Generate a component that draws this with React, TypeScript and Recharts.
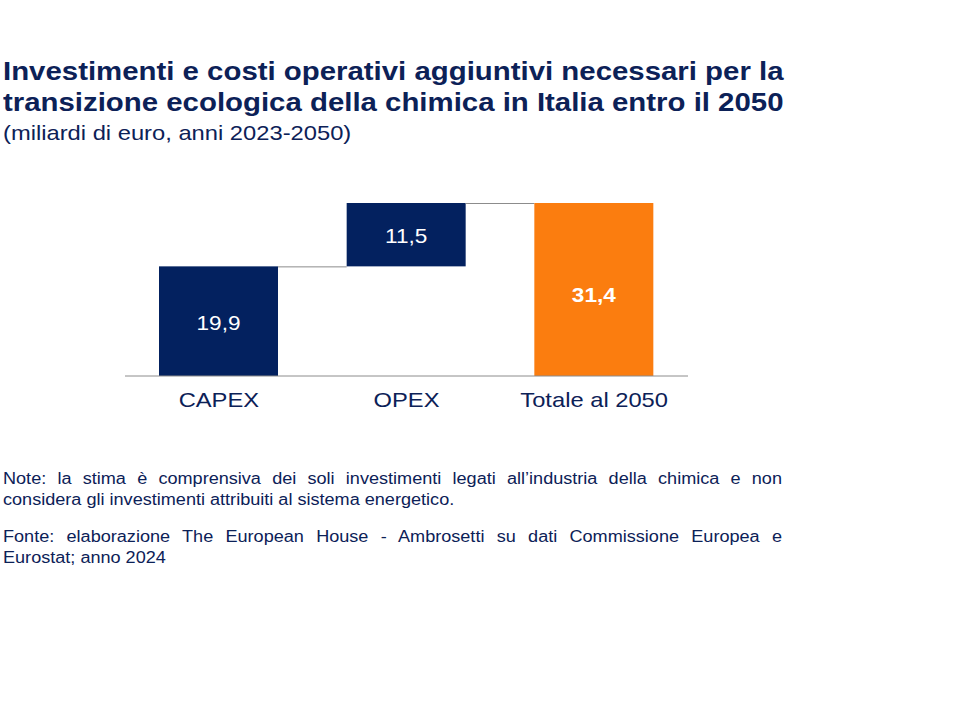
import { Bar, BarChart, LabelList, XAxis, YAxis } from "recharts";

const categories = ["CAPEX", "OPEX", "Totale al 2050"];
const values = [19.9, 11.5, 31.4];
const isTotal = [false, false, true];

// waterfall: each step starts where the previous ones ended, the total starts at 0
const bases = values.map((_, i) => {
  if (isTotal[i]) return 0;
  let s = 0;
  for (let j = 0; j < i; j++) if (!isTotal[j]) s += values[j];
  return s;
});

const data = categories.map((name, i) => ({
  name,
  base: bases[i],
  value: values[i],
  total: isTotal[i],
}));

const NAVY = "#03215F";
const ORANGE = "#FB7D0F";
const TEXT = "#0C2157";
const FONT = "'Liberation Sans', Arial, sans-serif";
const SX = 1.13; // the original slide text is a little wider than Arial

const CHART_W = 720;
const CHART_H = 260;
const margin = { top: 23, right: 32, left: 125, bottom: 24 };
const bandSize = (CHART_W - margin.left - margin.right) / categories.length;

const fmt = (v: any) => Number(v).toFixed(1).replace(".", ",");

const StepShape = (props: any) => {
  const { x, y, width, height, index, payload } = props;
  const gap = bandSize - width;
  return (
    <g>
      <rect x={x} y={y} width={width} height={height} fill={payload.total ? ORANGE : NAVY} />
      {index < categories.length - 1 && (
        <line x1={x + width} y1={y + 0.5} x2={x + width + gap} y2={y + 0.5} stroke="#8c8c8c" strokeWidth={1} />
      )}
    </g>
  );
};

const ValueLabel = (props: any) => {
  const { x, y, width, height, value, index } = props;
  const bold = isTotal[index];
  return (
    <g transform={`translate(${x + width / 2},${y + height / 2 + (bold ? 6 : 2)})`}>
      <text
        transform={`scale(${SX},1)`}
        textAnchor="middle"
        dominantBaseline="central"
        fill="#ffffff"
        fontSize={20}
        fontWeight={bold ? "bold" : "normal"}
        fontFamily={FONT}
      >
        {fmt(value)}
      </text>
    </g>
  );
};

const CategoryTick = (props: any) => {
  const { x, y, payload } = props;
  return (
    <g transform={`translate(${x},${y})`}>
      <text transform={`scale(${SX},1)`} textAnchor="middle" dy="0.71em" fill={TEXT} fontSize={21} fontFamily={FONT}>
        {payload.value}
      </text>
    </g>
  );
};

const line = (justify: boolean): any => ({
  textAlign: justify ? "justify" : "left",
  textAlignLast: justify ? "justify" : "left",
  whiteSpace: "nowrap",
});

export default function App() {
  return (
    <div style={{ position: "absolute", left: 0, top: 0, width: 960, height: 720, background: "#fff", fontFamily: FONT, color: TEXT }}>
      <div style={{ position: "absolute", left: 3, top: 56, fontSize: 26, fontWeight: "bold", lineHeight: "31px", whiteSpace: "nowrap", transform: `scaleX(${SX})`, transformOrigin: "0 0" }}>
        Investimenti e costi operativi aggiuntivi necessari per la
        <br />
        transizione ecologica della chimica in Italia entro il 2050
      </div>
      <div style={{ position: "absolute", left: 3, top: 120, fontSize: 21, lineHeight: "26px", whiteSpace: "nowrap", transform: `scaleX(${SX})`, transformOrigin: "0 0" }}>
        (miliardi di euro, anni 2023-2050)
      </div>

      <div style={{ position: "absolute", left: 0, top: 180 }}>
        <BarChart width={CHART_W} height={CHART_H} data={data} margin={margin} barSize={119}>
          <XAxis
            dataKey="name"
            tickLine={false}
            axisLine={{ stroke: "#8c8c8c" }}
            tick={<CategoryTick />}
            tickMargin={10}
            height={40}
            interval={0}
          />
          <YAxis hide domain={[0, 31.4]} />
          <Bar dataKey="base" stackId="w" fill="transparent" isAnimationActive={false} />
          <Bar dataKey="value" stackId="w" shape={<StepShape />} isAnimationActive={false}>
            <LabelList dataKey="value" content={<ValueLabel />} />
          </Bar>
        </BarChart>
      </div>

      <div
        style={{
          position: "absolute",
          left: 3,
          top: 468,
          width: 779 / SX,
          fontSize: 16,
          lineHeight: "21px",
          transform: `scaleX(${SX})`,
          transformOrigin: "0 0",
        }}
      >
        <div style={line(true)}>Note: la stima è comprensiva dei soli investimenti legati all’industria della chimica e non</div>
        <div style={line(false)}>considera gli investimenti attribuiti al sistema energetico.</div>
        <div style={{ ...line(true), marginTop: 16 }}>Fonte: elaborazione The European House - Ambrosetti su dati Commissione Europea e</div>
        <div style={line(false)}>Eurostat; anno 2024</div>
      </div>
    </div>
  );
}
